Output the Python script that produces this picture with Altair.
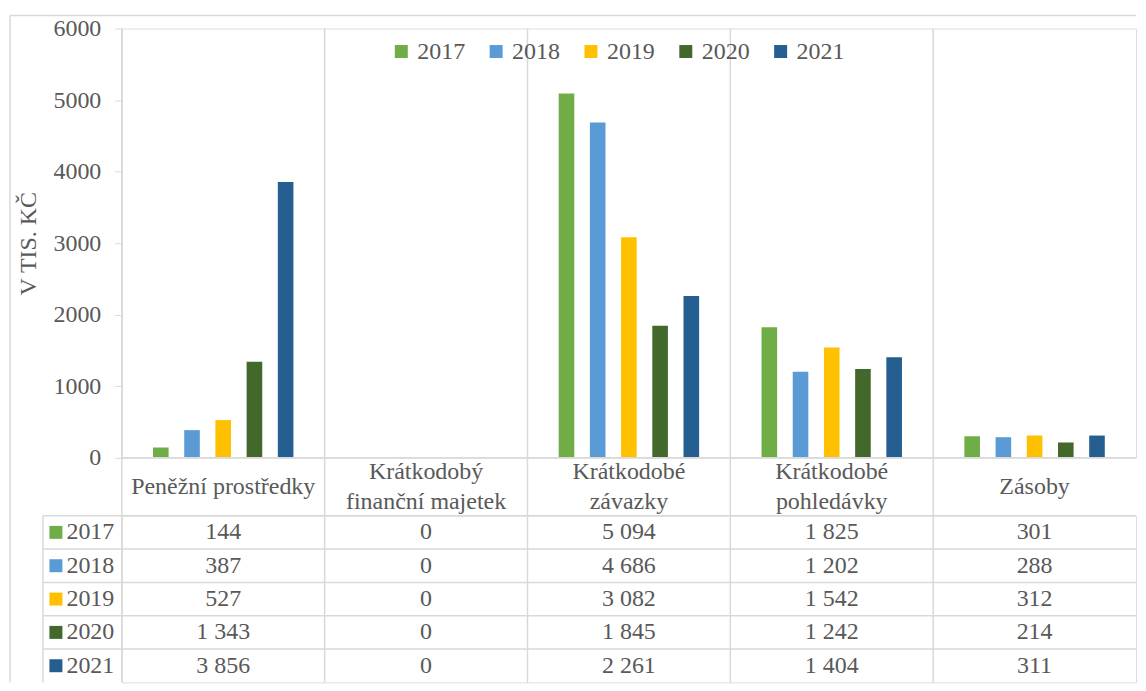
import altair as alt
import pandas as pd

# ---- data ----
categories = ["Peněžní prostředky", "Krátkodobý\nfinanční majetek", "Krátkodobé\nzávazky",
              "Krátkodobé\npohledávky", "Zásoby"]
years = ["2017", "2018", "2019", "2020", "2021"]
colors = ["#70AD47", "#5B9BD5", "#FFC000", "#43682B", "#255E91"]
v2017 = [144, 0, 5094, 1825, 301]
v2018 = [387, 0, 4686, 1202, 288]
v2019 = [527, 0, 3082, 1542, 312]
v2020 = [1343, 0, 1845, 1242, 214]
v2021 = [3856, 0, 2261, 1404, 311]
y_ticks = [0, 1000, 2000, 3000, 4000, 5000, 6000]
series = dict(zip(years, [v2017, v2018, v2019, v2020, v2021]))

rows = []
for yr, vals in series.items():
    for c, v in zip(categories, vals):
        rows.append({"cat": c, "year": yr, "value": v,
                     "label": f"{v:,}".replace(",", " ")})
df = pd.DataFrame(rows)
year_df = pd.DataFrame({"year": years})
cat_df = pd.DataFrame({"cat": categories})
one = alt.Data(values=[{"a": 0}])

# ---- style ----
FONT = "'Liberation Serif', 'Times New Roman', serif"
TXT = "#595959"
GRID = "#D9D9D9"
PW = 1016
PH, HDR = 430, 58
TH = 167

color_scale = alt.Scale(domain=years, range=colors)
x_scale = alt.Scale(paddingInner=0, paddingOuter=0)
y_scale = alt.Scale(paddingInner=0, paddingOuter=0)

x_axis = alt.Axis(title=None, labelExpr="split(datum.label, '\\n')",
                  labelAngle=0, labelFont=FONT, labelFontSize=24,
                  labelColor=TXT, labelBaseline="middle",
                  labelPadding={"condition": {"test": "indexof(datum.value, '\\n') >= 0",
                                              "value": HDR / 2 - 15},
                                "value": HDR / 2},
                  labelLineHeight=30, labelLimit=0, ticks=False,
                  domain=False, grid=False, labelOverlap=False)

# ---- top: bar chart ----
bars = alt.Chart(df).mark_bar().encode(
    x=alt.X("cat:N", sort=categories, scale=x_scale, axis=x_axis),
    xOffset=alt.XOffset("year:N", sort=years,
                        scale=alt.Scale(paddingInner=0.5, paddingOuter=1)),
    y=alt.Y("value:Q", scale=alt.Scale(domain=[0, 6000], nice=False),
            axis=alt.Axis(values=y_ticks, format="d", title="V TIS. KČ", grid=False,
                          labelFont=FONT, labelFontSize=24, labelColor=TXT,
                          labelPadding=14, tickSize=7, tickColor=GRID,
                          domainColor=GRID, titleFont=FONT, titleFontSize=24,
                          titleFontWeight="normal", titleColor=TXT,
                          titlePadding=12)),
    color=alt.Color("year:N", sort=years, scale=color_scale,
                    legend=alt.Legend(title=None, orient="none", legendX=268,
                                      legendY=11, direction="horizontal",
                                      symbolType="square", symbolSize=169,
                                      symbolStrokeWidth=0, labelFont=FONT,
                                      labelFontSize=24, labelColor=TXT,
                                      columnPadding=19, labelOffset=4,
                                      padding=0)),
)

# category separators (band starts), continuing through the label row
vlines_top = alt.Chart(cat_df).mark_rule(color=GRID, strokeWidth=1.5).encode(
    x=alt.X("cat:N", sort=categories, scale=x_scale, axis=x_axis, bandPosition=0),
    y=alt.value(0), y2=alt.value(PH + HDR))
zero_line = alt.Chart(one).mark_rule(color=GRID, strokeWidth=1.5).encode(
    y=alt.datum(0))
frame_top = alt.Chart(one).mark_rule(color=GRID, strokeWidth=1.5).encode(
    x=alt.value(-112), x2=alt.value(PW), y=alt.value(-13))
frame_left = alt.Chart(one).mark_rule(color=GRID, strokeWidth=1.5).encode(
    x=alt.value(-112), y=alt.value(-13), y2=alt.value(PH + HDR))

top = alt.layer(vlines_top, bars, zero_line, frame_top, frame_left).properties(
    width=PW, height=PH)

# ---- bottom: data table ----
y_axis_tab = alt.Axis(title=None, ticks=False, domain=False, grid=False,
                      labelFont=FONT, labelFontSize=24, labelColor=TXT,
                      labelPadding=8, labelBaseline="middle")

cells = alt.Chart(df).mark_text(font=FONT, fontSize=24, color=TXT,
                                baseline="middle").encode(
    x=alt.X("cat:N", sort=categories, scale=x_scale, axis=None),
    y=alt.Y("year:N", sort=years, scale=y_scale, axis=y_axis_tab),
    text="label:N")

vlines_tab = alt.Chart(cat_df).mark_rule(color=GRID, strokeWidth=1.5).encode(
    x=alt.X("cat:N", sort=categories, scale=x_scale, axis=None, bandPosition=0),
    y=alt.value(0), y2=alt.value(TH))

hlines_tab = alt.Chart(year_df).mark_rule(color=GRID, strokeWidth=1.5).encode(
    y=alt.Y("year:N", sort=years, scale=y_scale, axis=y_axis_tab, bandPosition=0),
    x=alt.value(-79), x2=alt.value(PW))

squares = alt.Chart(year_df).mark_point(shape="square", filled=True, size=169,
                                        opacity=1).encode(
    x=alt.value(-66),
    y=alt.Y("year:N", sort=years, scale=y_scale, axis=y_axis_tab),
    color=alt.Color("year:N", sort=years, scale=color_scale, legend=None))

tab_left = alt.Chart(one).mark_rule(color=GRID, strokeWidth=1.5).encode(
    x=alt.value(-79), y=alt.value(0), y2=alt.value(TH))
frame_left2 = alt.Chart(one).mark_rule(color=GRID, strokeWidth=1.5).encode(
    x=alt.value(-112), y=alt.value(0), y2=alt.value(TH))

table = alt.layer(vlines_tab, hlines_tab, cells, squares, tab_left,
                  frame_left2).properties(width=PW, height=TH)

chart = alt.vconcat(top, table, spacing=HDR, bounds="flush").resolve_scale(
    x="independent", y="independent", color="independent"
).resolve_legend(color="independent").properties(
    padding={"left": 0, "top": 5, "right": 0, "bottom": 0}
).configure_view(stroke=None).configure(background="white")

chart.save("out.html", embed_options={"renderer": "svg", "actions": False})
